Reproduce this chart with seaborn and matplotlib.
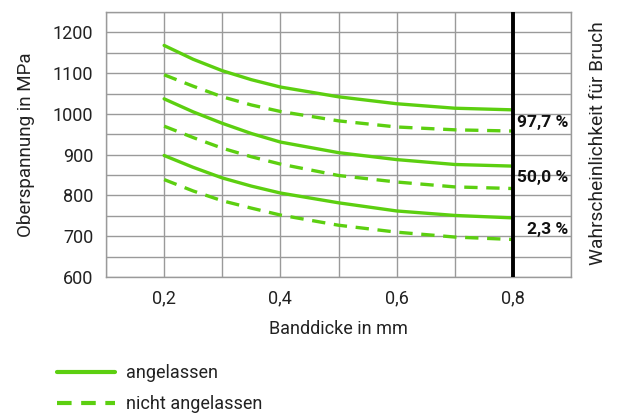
import matplotlib
matplotlib.use("Agg")
import matplotlib.pyplot as plt
import seaborn as sns
import pandas as pd
import numpy as np
from matplotlib.lines import Line2D

# Daten
banddicke = [0.2, 0.25, 0.3, 0.35, 0.4, 0.5, 0.6, 0.7, 0.8]

angelassen_977 = [1168, 1134, 1106, 1084, 1066, 1042, 1025, 1014, 1010]
nicht_angelassen_977 = [1096, 1068, 1042, 1022, 1006, 983, 968, 961, 958]
angelassen_500 = [1037, 1005, 977, 952, 931, 905, 888, 876, 872]
nicht_angelassen_500 = [970, 942, 916, 895, 877, 849, 833, 821, 817]
angelassen_23 = [898, 869, 843, 823, 806, 782, 762, 751, 745]
nicht_angelassen_23 = [839, 811, 787, 769, 752, 727, 710, 698, 692]

wahrscheinlichkeiten = ["97,7 %", "50,0 %", "2,3 %"]
label_y = [978, 843, 717]
x_ticks = [0.2, 0.4, 0.6, 0.8]
x_ticklabels = ["0,2", "0,4", "0,6", "0,8"]
y_ticks = [600, 700, 800, 900, 1000, 1100, 1200]

GRUEN = "#5ccf10"
TEXT = "#222222"

kurven = [
    ("97,7", "angelassen", angelassen_977),
    ("97,7", "nicht angelassen", nicht_angelassen_977),
    ("50,0", "angelassen", angelassen_500),
    ("50,0", "nicht angelassen", nicht_angelassen_500),
    ("2,3", "angelassen", angelassen_23),
    ("2,3", "nicht angelassen", nicht_angelassen_23),
]
rows = []
for p, zustand, werte in kurven:
    for d, s in zip(banddicke, werte):
        rows.append({"dicke": d, "spannung": s, "zustand": zustand, "kurve": p + zustand})
df = pd.DataFrame(rows)

sns.set_style("white")
plt.rcParams["font.family"] = ["Roboto", "DejaVu Sans"]

fig = plt.figure(figsize=(6.2, 4.15), dpi=100)
ax = fig.add_axes([106 / 620, 1 - 277 / 415, 465 / 620, 265 / 415])

for kurve, sub in df.groupby("kurve", sort=False):
    zustand = sub["zustand"].iloc[0]
    ls = "-" if zustand == "angelassen" else (0, (4, 2.6))
    sns.lineplot(data=sub, x="dicke", y="spannung", ax=ax, color=GRUEN,
                 linewidth=2.4, linestyle=ls, legend=False, zorder=3)

ax.set_xlim(0.1, 0.9)
ax.set_ylim(600, 1250)
ax.set_xticks(np.arange(0.1, 0.91, 0.1), minor=True)
ax.set_yticks(np.arange(600, 1251, 50), minor=True)
ax.set_xticks(x_ticks)
ax.set_xticklabels(x_ticklabels)
ax.set_yticks(y_ticks)
ax.grid(True, which="both", color="#9a9a9a", linewidth=1.0)
ax.tick_params(which="both", length=0, labelsize=13, colors=TEXT, pad=9)
for sp in ax.spines.values():
    sp.set_color("#9a9a9a")
    sp.set_linewidth(1.0)

ax.axvline(0.8, color="black", linewidth=2.8, zorder=4)

for txt, y in zip(wahrscheinlichkeiten, label_y):
    ax.text(0.895, y, txt, ha="right", va="center", fontsize=12.5,
            fontweight="bold", color="#111111", zorder=5)

ax.set_xlabel("Banddicke in mm", fontsize=13, color=TEXT, labelpad=9)
ax.set_ylabel("Oberspannung in MPa", fontsize=13.5, color=TEXT, labelpad=13)
fig.text(598 / 620, 1 - 143 / 415, "Wahrscheinlichkeit für Bruch", rotation=90,
         ha="center", va="center", fontsize=13.8, color=TEXT)

handles = [
    Line2D([], [], color=GRUEN, linewidth=3.0, linestyle="-"),
    Line2D([], [], color=GRUEN, linewidth=3.0, linestyle=(0, (3.5, 2.3))),
]
fig.legend(handles, ["angelassen", "nicht angelassen"], loc="upper left",
           bbox_to_anchor=(41 / 620, 1 - 348 / 415), frameon=False,
           fontsize=13, handlelength=3.2, handletextpad=0.6,
           labelspacing=0.72, labelcolor=TEXT)

fig.savefig("out.png", dpi=100)
